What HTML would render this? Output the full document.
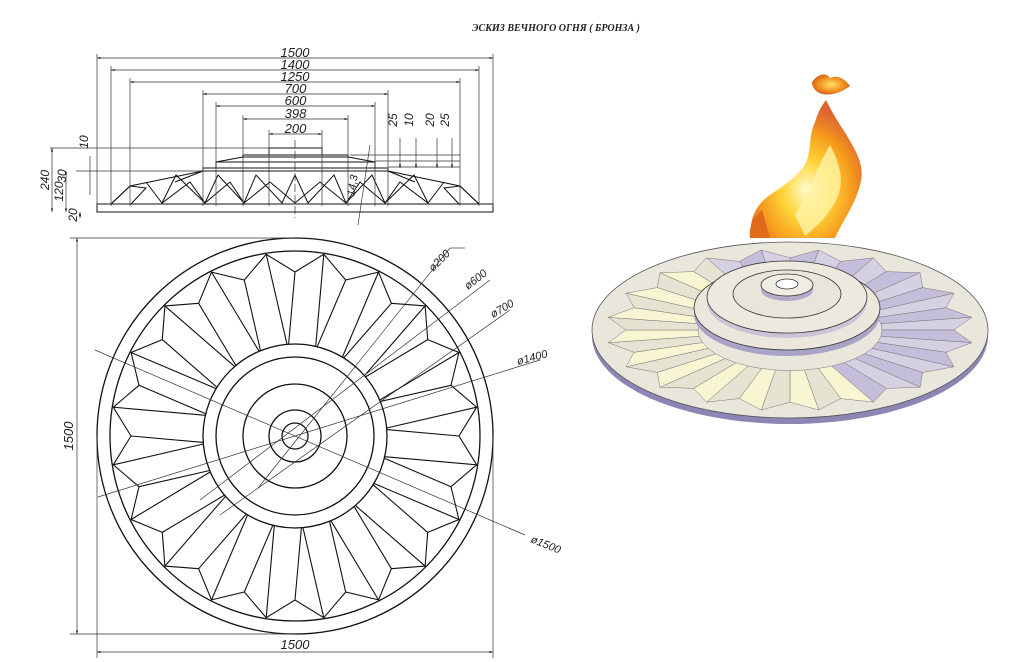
<!DOCTYPE html>
<html><head><meta charset="utf-8"><style>
html,body{margin:0;padding:0;background:#fff;width:1024px;height:662px;overflow:hidden}
svg{display:block}
text{font-family:"Liberation Sans",sans-serif;font-style:italic;fill:#222}
</style></head><body>
<svg id="s" width="1024" height="662" viewBox="0 0 1024 662" xmlns="http://www.w3.org/2000/svg">
<defs>
<marker id="a" viewBox="0 0 10 10" refX="10" refY="5" markerWidth="7" markerHeight="5" orient="auto-start-reverse"><path d="M0,2 L10,5 L0,8z" fill="#111"/></marker>
<radialGradient id="f1" cx="50%" cy="65%" r="60%"><stop offset="0" stop-color="#fffbd0"/><stop offset="0.35" stop-color="#ffd53a"/><stop offset="0.7" stop-color="#f59a1c"/><stop offset="1" stop-color="#d9521a" stop-opacity="0.9"/></radialGradient>
<radialGradient id="f2" cx="50%" cy="50%" r="60%"><stop offset="0" stop-color="#ffe066"/><stop offset="0.6" stop-color="#f08a1e"/><stop offset="1" stop-color="#c84a18"/></radialGradient>
</defs>
<text x="556" y="31" text-anchor="middle" style="font-family:'Liberation Serif',serif;font-weight:bold;font-size:10px">ЭСКИЗ ВЕЧНОГО ОГНЯ ( БРОНЗА )</text>
<g id="elev" stroke="#111" fill="none" stroke-width="1"></g>
<g id="plan" stroke="#111" fill="none" stroke-width="1.3"></g>
<g id="dims" stroke="#333" fill="none" stroke-width="0.7"></g>
<g id="iso"></g>
<g id="flame">
<path d="M752,238 C748,222 755,205 770,195 C785,185 795,178 805,165 C812,150 808,138 815,122 C818,112 822,105 826,100 C832,112 838,122 846,134 C855,150 866,165 860,185 C855,205 842,222 835,238 Z" fill="url(#f1)"/>
<path d="M795,215 C810,190 818,165 830,145 C838,160 845,178 838,196 C830,215 815,228 805,236 Z" fill="#fff4a8" opacity="0.8"/>
<path d="M812,82 C818,74 826,72 830,78 C838,74 846,80 850,86 C842,92 832,96 822,94 C816,92 812,88 812,82 Z" fill="url(#f2)"/>
<path d="M750,238 C748,225 756,215 762,210 L770,238 Z" fill="#e06a1a"/>
</g>
</svg>
<script>
const NS="http://www.w3.org/2000/svg";
function el(p,t,a,txt){const e=document.createElementNS(NS,t);for(const k in a)e.setAttribute(k,a[k]);if(txt!==undefined)e.textContent=txt;document.getElementById(p).appendChild(e);return e;}
const cx=295,cy=436;
el('plan','circle',{cx,cy,r:198});
el('plan','circle',{cx,cy,r:185});
[92,79,52,26,13].forEach(r=>el('plan','circle',{cx,cy,r}));
let pts=[];
for(let k=0;k<20;k++){
 const a0=(18*k-90)*Math.PI/180, a1=(18*k+9-90)*Math.PI/180;
 pts.push([cx+164*Math.cos(a0),cy+164*Math.sin(a0)]);
 pts.push([cx+184*Math.cos(a1),cy+184*Math.sin(a1)]);
}
el('plan','polygon',{points:pts.map(p=>p.map(v=>v.toFixed(1)).join(',')).join(' '),'stroke-width':1.1});
for(let i=0;i<40;i++){
 const a=(9*i-90)*Math.PI/180;
 const p=pts[i];
 const sx=cx+92*Math.cos(a+ (i%2?0.07:-0.07)), sy=cy+92*Math.sin(a+(i%2?0.07:-0.07));
 el('plan','line',{x1:sx.toFixed(1),y1:sy.toFixed(1),x2:p[0].toFixed(1),y2:p[1].toFixed(1),'stroke-width':1.1});
}
el('dims','line',{x1:77,y1:238,x2:77,y2:634,'marker-start':'url(#a)','marker-end':'url(#a)'});
el('dims','line',{x1:70,y1:238,x2:295,y2:238});
el('dims','line',{x1:70,y1:634,x2:295,y2:634});
el('dims','line',{x1:97,y1:652,x2:493,y2:652,'marker-start':'url(#a)','marker-end':'url(#a)'});
el('dims','line',{x1:97,y1:436,x2:97,y2:658});
el('dims','line',{x1:493,y1:436,x2:493,y2:658});
el('dims','text',{x:295,y:649,'text-anchor':'middle','font-size':13,stroke:'none'},'1500');
el('dims','text',{x:0,y:0,'text-anchor':'middle','font-size':13,stroke:'none',transform:'translate(73,436) rotate(-90)'},'1500');
el('dims','line',{x1:258,y1:488,x2:450,y2:248});
el('dims','line',{x1:200,y1:500,x2:490,y2:280});
el('dims','line',{x1:220,y1:515,x2:510,y2:310});
el('dims','line',{x1:98,y1:497,x2:540,y2:360});
el('dims','line',{x1:95,y1:350,x2:525,y2:535});
el('dims','line',{x1:450,y1:248,x2:465,y2:248});
el('dims','text',{x:433,y:272,'font-size':11,stroke:'none',transform:'rotate(-45 433 272)'},'ø200');
el('dims','text',{x:468,y:290,'font-size':11,stroke:'none',transform:'rotate(-38 468 290)'},'ø600');
el('dims','text',{x:493,y:318,'font-size':11,stroke:'none',transform:'rotate(-30 493 318)'},'ø700');
el('dims','text',{x:518,y:365,'font-size':11,stroke:'none',transform:'rotate(-15 518 365)'},'ø1400');
el('dims','text',{x:530,y:542,'font-size':11,stroke:'none',transform:'rotate(22 530 542)'},'ø1500');
// elevation
el('elev','rect',{x:97,y:204,width:396,height:8});
el('elev','rect',{x:269,y:148,width:53,height:7});
el('elev','polyline',{points:'243,155 348,155 348,157 243,157 243,155'});
el('elev','polyline',{points:'243,157 216,162 375,162 348,157'});
el('elev','rect',{x:216,y:162,width:159,height:6});
el('elev','rect',{x:203,y:168,width:185,height:3});
el('elev','polyline',{points:'203,171 130,186 111,204'});
el('elev','polyline',{points:'388,171 460,186 479,204'});
el('elev','polyline',{points:'111,204 130,186 146,188 131,204'});
el('elev','polyline',{points:'479,204 460,186 444,188 459,204'});
let zz=[];const xs=[162,176,205,218,244,256,282,295,308,334,346,372,385,414,428];
xs.forEach((x,i)=>{zz.push(x+','+(i%2?175:203));});
el('elev','polyline',{points:zz.join(' ')});
let zz2=[];const xs2=[146,162,190,205,230,244,270,295,320,346,360,385,400,428,444];
xs2.forEach((x,i)=>{zz2.push(x+','+(i%2?203:182));});
el('elev','polyline',{points:zz2.join(' ')});
el('elev','line',{x1:175,y1:182,x2:203,y2:171});el('elev','line',{x1:415,y1:182,x2:388,y2:171});
const H=[[1500,58,97,493],[1400,70,111,479],[1250,82,130,460],[700,94,203,388],[600,106,216,375],[398,119,243,348],[200,134,269,322]];
H.forEach(([t,y,x1,x2])=>{
 el('dims','line',{x1,y1:y,x2,y2:y,'marker-start':'url(#a)','marker-end':'url(#a)'});
 el('dims','line',{x1,y1:y-4,x2:x1,y2:206});el('dims','line',{x1:x2,y1:y-4,x2,y2:206});
 el('dims','text',{x:(x1+x2)/2,y:y-1,'text-anchor':'middle','font-size':13,stroke:'none'},t);
});
el('dims','line',{x1:295,y1:140,x2:295,y2:218,'stroke-dasharray':'8 3'});
[[52,148,212,'240'],[66,171,212,'120'],[80,212,218,'20']].forEach(([x,y1,y2,t])=>{
 el('dims','line',{x1:x,y1,x2:x,y2,'marker-start':'url(#a)','marker-end':'url(#a)'});
 el('dims','text',{x:0,y:0,'font-size':12,stroke:'none','text-anchor':'middle',transform:`translate(${x-3},${(y1+y2)/2}) rotate(-90)`},t);
});
el('dims','line',{x1:50,y1:148,x2:270,y2:148});el('dims','line',{x1:76,y1:171,x2:204,y2:171});
el('dims','line',{x1:90,y1:156,x2:90,y2:195});
el('dims','text',{x:0,y:0,'font-size':12,stroke:'none','text-anchor':'middle',transform:'translate(88,142) rotate(-90)'},'10');
el('dims','text',{x:0,y:0,'font-size':12,stroke:'none','text-anchor':'middle',transform:'translate(66,176) rotate(-90)'},'30');
[[400,'25'],[416,'10'],[437,'20'],[452,'25']].forEach(([x,t])=>{
 el('dims','line',{x1:x,y1:138,x2:x,y2:168,'marker-end':'url(#a)'});
 el('dims','text',{x:0,y:0,'font-size':12,stroke:'none','text-anchor':'middle',transform:`translate(${x-3},${120}) rotate(-90)`},t);
});
el('dims','line',{x1:350,y1:155,x2:460,y2:155});el('dims','line',{x1:375,y1:161,x2:460,y2:161});el('dims','line',{x1:388,y1:167,x2:460,y2:167});
el('dims','line',{x1:370,y1:145,x2:358,y2:225});
el('dims','text',{x:0,y:0,'font-size':11,stroke:'none','text-anchor':'middle',transform:'translate(356,186) rotate(-80)'},'14,3');
// iso
const ix=790,iy=330,k=0.44;
el('iso','ellipse',{cx:ix,cy:iy+6,rx:198,ry:88,fill:'#8d86b4'});
el('iso','ellipse',{cx:ix,cy:iy,rx:198,ry:88,fill:'#e9e6dc',stroke:'#555','stroke-width':0.8});
const P=(r,a)=>[ix+r*Math.cos(a),iy+r*Math.sin(a)*k];
for(let i=0;i<40;i++){
 const a0=(9*i-90)*Math.PI/180,a1=(9*(i+1)-90)*Math.PI/180;
 const r0=i%2?184:164,r1=i%2?164:184;
 const p=[P(92,a0),P(r0,a0),P(r1,a1),P(92,a1)];
 const light=-Math.cos(a0+0.5);
 const col=(i%2)?(light>0?'#f8f6d2':'#d6d1e2'):(light>0?'#e6e3d2':'#c4bedb');
 el('iso','polygon',{points:p.map(q=>q.map(v=>v.toFixed(1)).join(',')).join(' '),fill:col,stroke:'#777','stroke-width':0.5});
}
const hx=787,hy=300;
el('iso','ellipse',{cx:hx,cy:hy+14,rx:93,ry:42,fill:'#a9a3c6'});
el('iso','ellipse',{cx:hx,cy:hy+8,rx:93,ry:42,fill:'#ebe7dc',stroke:'#333','stroke-width':0.8});
el('iso','ellipse',{cx:hx,cy:hy+2,rx:80,ry:36,fill:'#c9c4d6'});
el('iso','ellipse',{cx:hx,cy:hy-3,rx:80,ry:36,fill:'#ece9df',stroke:'#333','stroke-width':0.8});
el('iso','ellipse',{cx:hx,cy:hy-6,rx:54,ry:24,fill:'#e8e5da',stroke:'#333','stroke-width':0.8});
el('iso','ellipse',{cx:hx,cy:hy-10,rx:26,ry:11,fill:'#b2abcc'});
el('iso','ellipse',{cx:hx,cy:hy-15,rx:26,ry:11,fill:'#efece3',stroke:'#333','stroke-width':0.8});
el('iso','ellipse',{cx:hx,cy:hy-16,rx:11,ry:5,fill:'#ffffff',stroke:'#333','stroke-width':0.8});
</script>
</body></html>
